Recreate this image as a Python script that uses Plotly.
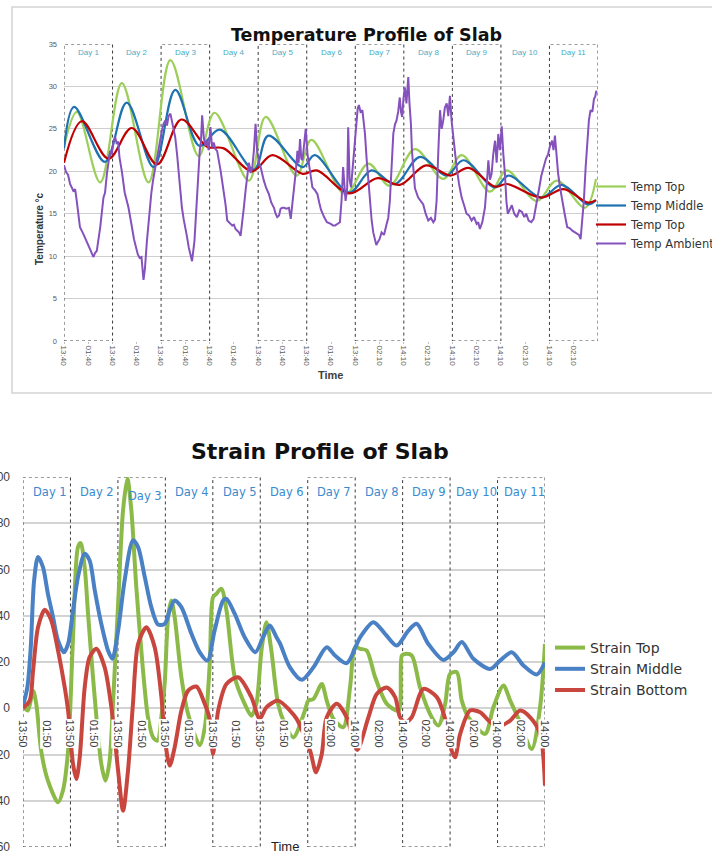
import plotly.graph_objects as go

W, H = 712, 863

# ---------------- Temperature chart data ----------------
temp_tick_vals = [0, 12, 24, 36, 48, 60, 72, 84, 96, 108, 120, 132, 144, 156, 168, 180, 192, 204, 216, 228, 240, 252]
temp_tick_text = ["13:40", "01:40", "13:40", "01:40", "13:40", "01:40", "13:40", "01:40", "13:40", "01:40",
                  "13:40", "01:40", "13:40", "02:10", "14:10", "02:10", "14:10", "02:10", "14:10", "02:10",
                  "14:10", "02:10"]
day_labels = ["Day 1", "Day 2", "Day 3", "Day 4", "Day 5", "Day 6", "Day 7", "Day 8", "Day 9", "Day 10", "Day 11"]
day_edges = [0, 24, 48, 72, 96, 120, 144, 168, 192, 216, 240, 264]

tt_h = [0, 6.4, 17.9, 28.6, 41.8, 52.6, 66.6, 74.4, 91.4, 99.7, 115.0, 122.3, 139.0, 150.5, 161.0, 173.5,
        187.5, 196.6, 210.6, 218.9, 233.7, 243.6, 257.6, 263.0]
tt_v = [22.9, 27.0, 18.7, 30.4, 18.7, 33.1, 21.8, 26.9, 18.9, 26.4, 19.5, 23.7, 17.3, 20.9, 18.3, 22.6,
        19.1, 21.9, 17.6, 20.1, 16.5, 18.9, 15.7, 19.1]

tm_h = [0, 5.0, 20.3, 31.0, 44.3, 55.0, 67.0, 77.0, 94.0, 101.0, 118.0, 124.0, 141.0, 152.0, 163.6, 176.0,
        189.0, 197.5, 213.0, 219.7, 236.0, 246.0, 259.0, 263.0]
tm_v = [22.7, 27.6, 21.1, 28.1, 20.5, 29.6, 23.0, 24.9, 20.2, 24.2, 20.5, 21.9, 17.5, 20.1, 18.5, 21.7,
        19.5, 21.3, 18.1, 19.5, 16.9, 18.4, 16.1, 16.6]

tb_h = [0, 8.8, 22.0, 33.5, 46.0, 58.0, 70.7, 79.0, 93.0, 103.0, 118.0, 125.0, 141.0, 155.0, 166.0, 179.0,
        191.0, 200.0, 213.0, 219.0, 236.0, 247.0, 259.0, 263.0]
tb_v = [21.0, 25.9, 21.5, 25.1, 20.8, 26.1, 22.9, 22.7, 20.0, 21.9, 19.7, 20.1, 17.4, 19.2, 18.4, 20.7,
        19.5, 20.4, 18.2, 18.5, 16.9, 17.9, 16.3, 16.6]

ta_h = [0, 1.0, 2.0, 3.0, 4.6, 5.5, 6.3, 7.2, 7.9, 9.6, 10.8, 12.1, 13.3, 14.5, 15.4, 16.2, 17.1, 17.9,
        19.5, 20.3, 21.2, 22.0, 22.8, 23.6, 24.5, 25.3, 26.1, 26.8, 27.4, 28.6, 30.0, 31.9, 32.7, 33.6,
        34.6, 35.7, 36.5, 37.4, 38.3, 39.3, 40.0, 41.0, 42.3, 43.2, 44.0, 45.1, 45.9, 46.8, 47.6, 48.4,
        49.2, 50.1, 50.9, 51.7, 52.6, 53.4, 54.2, 55.0, 55.9, 56.7, 57.5, 58.3, 59.2, 60.0, 60.8, 61.7,
        62.5, 63.3, 64.5, 65.2, 65.8, 66.5, 67.1, 67.7, 68.3, 69.1, 69.9, 70.7, 71.5, 72.4, 73.2, 74.0,
        74.9, 75.7, 76.5, 77.4, 78.2, 79.0, 79.9, 80.7, 81.5, 82.3, 83.2, 84.0, 84.8, 85.7, 86.5, 87.3,
        88.1, 88.9, 89.8, 90.6, 91.4, 92.3, 93.1, 93.9, 94.7, 95.5, 96.4, 97.2, 98.0, 98.8, 100.0, 101.3,
        102.5, 103.8, 104.6, 105.4, 106.3, 107.1, 108.0, 108.8, 110.0, 111.2, 112.1, 112.9, 113.7, 114.6,
        115.4, 116.0, 116.7, 117.3, 117.9, 118.7, 119.5, 120.4, 121.2, 122.0, 122.8, 124.0, 125.3, 126.2,
        127.0, 128.6, 130.0, 131.9, 133.0, 134.0, 135.2, 136.4, 137.2, 138.0, 139.2, 140.0, 140.5, 141.2,
        141.9, 143.0, 143.8, 144.6, 145.2, 145.8, 146.6, 147.5, 148.2, 148.8, 149.6, 150.4, 151.2, 152.1,
        152.9, 153.7, 154.4, 155.0, 156.0, 157.0, 158.2, 159.5, 160.3, 161.1, 162.0, 162.8, 163.6, 164.4,
        165.2, 166.0, 166.6, 167.2, 167.8, 168.5, 169.3, 170.2, 170.8, 171.5, 172.0, 172.6, 173.5, 175.1,
        176.4, 177.6, 178.8, 180.1, 181.4, 182.6, 183.4, 184.2, 185.0, 185.9, 186.7, 187.5, 188.3, 189.2,
        190.0, 190.8, 191.6, 192.5, 193.3, 194.1, 195.3, 196.6, 197.8, 199.0, 200.2, 201.5, 202.7, 204.0,
        204.8, 205.6, 206.8, 208.1, 209.0, 209.8, 210.6, 211.4, 212.2, 213.1, 213.9, 214.7, 215.5, 216.4,
        217.2, 218.0, 218.7, 219.4, 220.4, 221.4, 222.6, 223.9, 225.1, 226.4, 227.6, 228.5, 229.7, 231.0,
        232.2, 233.4, 234.7, 236.0, 237.2, 238.3, 239.3, 240.3, 241.3, 242.0, 242.7, 243.5, 244.3, 245.3,
        246.3, 247.5, 248.8, 250.0, 251.3, 252.5, 253.7, 254.6, 255.4, 256.2, 257.0, 257.9, 258.7, 259.5,
        260.3, 261.2, 262.0, 262.6, 263.2]
ta_v = [20.7, 19.9, 19.6, 18.5, 17.7, 17.9, 16.5, 15.0, 13.4, 12.6, 12.0, 11.4, 10.6, 9.9, 10.4, 10.6, 12.0, 13.4,
        16.9, 17.5, 19.7, 21.0, 22.4, 22.0, 23.6, 24.0, 23.2, 23.5, 21.7, 20.0, 17.5, 15.7, 14.4, 13.4,
        12.0, 11.0, 10.2, 9.8, 9.9, 7.2, 8.5, 11.8, 15.7, 17.5, 18.9, 20.5, 21.5, 22.8, 23.9, 24.8,
        25.6, 26.0, 25.4, 26.5, 26.8, 25.8, 25.0, 24.0, 22.0, 19.7, 17.5, 15.7, 14.3, 13.4, 12.3, 11.0,
        10.2, 9.4, 11.8, 14.5, 17.7, 20.5, 22.4, 23.5, 26.6, 24.0, 23.0, 23.6, 22.5, 25.2, 22.8, 23.4,
        22.6, 22.4, 21.5, 20.1, 18.8, 17.7, 16.0, 14.2, 14.0, 13.8, 13.6, 13.7, 13.2, 13.0, 12.8, 12.4,
        13.8, 15.7, 17.8, 19.7, 21.0, 19.8, 20.5, 22.5, 25.6, 22.4, 21.0, 20.5, 19.6, 18.9, 18.0, 17.3,
        16.3, 15.7, 15.0, 14.6, 14.8, 15.6, 15.7, 15.7, 15.6, 15.7, 14.4, 16.0, 18.1, 20.0,
        22.4, 21.0, 23.8, 21.5, 21.3, 23.0, 25.0, 22.0, 20.5, 19.0, 18.1, 17.8, 17.3, 16.3,
        15.5, 14.6, 14.0, 13.8, 13.6, 13.6, 13.8, 14.0, 16.5, 20.5, 16.5, 18.0, 25.2, 19.0,
        18.1, 21.3, 23.5, 26.0, 27.4, 27.8, 27.0, 27.2, 26.0, 24.4, 21.5, 18.9, 16.5, 14.2,
        12.8, 11.8, 11.3, 11.6, 12.0, 12.8, 12.5, 13.8, 14.5, 16.5, 20.5, 24.4, 25.5, 26.0,
        27.0, 28.7, 27.0, 26.4, 28.5, 29.9, 28.0, 31.1, 28.0, 25.6, 22.5, 20.5, 18.0, 16.9,
        16.4, 16.1, 15.0, 14.2, 14.5, 14.0, 14.3, 16.5, 22.0, 27.2, 25.0, 26.0, 27.5, 28.0,
        26.5, 28.9, 26.0, 24.0, 22.0, 20.5, 18.5, 16.9, 16.0, 15.0, 14.8, 14.2, 14.6, 13.8,
        14.0, 13.2, 14.0, 15.7, 18.5, 21.3, 19.0, 19.7, 22.0, 23.6, 21.0, 24.4, 22.5, 25.3,
        22.0, 19.7, 16.5, 15.0, 15.5, 16.0, 15.0, 14.6, 15.4, 15.2, 14.6, 15.0, 14.2, 14.0,
        14.4, 15.8, 17.7, 19.5, 20.5, 21.5, 22.0, 23.0, 23.6, 22.5, 24.2, 21.5, 19.7, 18.0,
        16.5, 15.0, 13.4, 13.3, 13.0, 12.8, 12.6, 12.5, 12.0, 14.0, 16.5, 20.5, 24.0, 26.0,
        27.2, 27.0, 28.5, 28.8, 29.5]

# ---------------- Strain chart data ----------------
strain_tick_vals = [0, 12, 24, 36, 48, 60, 72, 84, 96, 108, 120, 132, 144, 156, 168, 180, 192, 204, 216, 228, 240, 252, 264]
strain_tick_text = ["13:50", "01:50", "13:50", "01:50", "13:50", "01:50", "13:50", "01:50", "13:50", "01:50",
                    "13:50", "01:50", "13:50", "02:00", "14:00", "02:00", "14:00", "02:00", "14:00", "02:00",
                    "14:00", "02:00", "14:00"]

st_h = [0.5, 2.5, 5.1, 6.7, 9.3, 12.6, 17.7, 20.2, 22.8, 25.3, 27.8, 29.2, 31.2, 32.9, 35.4, 39.6, 41.7, 43.8,
        45.5, 48.1, 50.6, 52.8, 54.8, 57.3, 60.7, 63.2, 65.8, 68.0, 70.2, 71.7, 73.4, 75.0, 76.7, 80.1, 83.5,
        89.4, 92.0, 94.5, 96.1, 97.8, 100.3, 102.9, 107.1, 112.1, 115.5, 118.0, 120.6, 123.1, 125.6, 129.0,
        132.4, 136.7, 142.6, 144.3, 146.9, 151.1, 153.6, 157.0, 162.0, 165.4, 168.0, 170.5, 173.8, 178.1,
        184.0, 189.9, 191.6, 193.2, 196.6, 200.8, 206.7, 210.1, 213.5, 216.0, 219.4, 221.9, 225.3, 233.7,
        237.9, 243.0, 246.4, 250.6, 257.3, 261.5, 264.0]
st_v = [0.4, -1.0, 7.6, 1.9, -19.0, -31.3, -40.7, -35.6, -18.3, 30.7, 69.7, 71.4, 61.0, 40.8, 13.4, -24.1, -31.3, -22.7,
        1.9, 45.0, 85.6, 99.3, 85.6, 52.4, 16.3, -3.9, -12.6, -14.0, -2.0, 11.3, 39.4, 46.6, 39.4, 13.4, -2.5,
        -16.0, -8.0, 20.0, 48.0, 49.5, 51.7, 42.3, 13.4, 1.9, -3.2, 1.9, 25.0, 37.2, 25.0, 1.9,
        -6.8, -12.6, -1.0, 3.3, 4.0, 10.5, 3.3, -4.6, -8.2, 9.0, 26.4, 25.7, 25.0, 13.4,
        1.9, -1.0, 22.8, 23.5, 22.8, 9.0, -3.9, -7.5, 1.9, 14.9, 15.6, 3.3, -3.9, -11.1,
        0.4, 9.8, 3.3, -4.6, -17.6, 0.4, 27.8]

sm_h = [0, 2.2, 3.9, 5.6, 7.6, 10.1, 12.6, 15.2, 17.7, 20.7, 22.8, 25.3, 27.8, 31.2, 33.7, 36.3, 39.6, 43.0,
        45.2, 48.1, 51.4, 55.6, 58.2, 61.6, 64.9, 68.3, 71.7, 74.2, 76.7, 80.1, 85.2, 89.4, 93.3, 96.9,
        101.2, 102.9, 107.1, 112.1, 117.5, 121.4, 124.8, 128.2, 130.0, 135.0, 141.0, 146.9, 153.6, 157.8,
        163.7, 170.5, 177.2, 183.1, 189.0, 194.9, 199.1, 205.0, 212.6, 217.7, 221.9, 227.8, 236.2, 241.3,
        247.2, 253.1, 259.8, 264.0]
sm_v = [1.2, 9.0, 26.0, 55.0, 65.4, 61.0, 49.5, 39.4, 29.3, 24.2, 27.8, 42.3, 56.7, 66.8, 63.9, 51.0, 36.5, 25.0,
        21.4, 33.6, 55.3, 72.6, 69.7, 56.7, 43.7, 36.2, 36.5, 42.3, 46.6, 43.7, 32.2, 24.2, 20.6, 33.6,
        46.6, 47.3, 40.8, 30.7, 24.2, 30.7, 35.8, 30.7, 28.0, 17.7, 12.3, 17.7, 26.4, 22.8,
        19.5, 30.7, 37.2, 32.2, 27.1, 33.6, 36.5, 27.8, 20.9, 24.2, 28.6, 21.4, 17.0, 20.6,
        24.2, 18.5, 14.6, 19.9]

sb_h = [0, 3.4, 5.1, 7.6, 11.0, 14.3, 17.7, 21.1, 22.8, 25.3, 27.0, 28.7, 31.2, 33.7, 37.1, 41.3, 44.7, 48.1,
        50.6, 53.1, 55.6, 58.2, 62.4, 66.6, 70.0, 71.7, 74.2, 76.7, 80.1, 83.5, 87.7, 91.9, 94.4, 96.1, 98.7,
        102.9, 108.8, 115.5, 119.7, 123.1, 129.0, 135.0, 138.4, 145.2, 148.2, 151.1, 153.6, 158.7, 163.7,
        166.5, 169.1, 174.7, 178.9, 184.0, 188.2, 190.7, 193.5, 196.6, 202.5, 209.3, 213.5, 216.8, 218.5,
        221.1, 226.1, 231.2, 235.4, 240.0, 246.4, 251.4, 256.5, 261.5, 264.0]
sb_v = [0.1, 3.3, 16.3, 35.0, 42.6, 38.0, 25.0, 9.0, -1.0, -24.1, -30.6, -21.2, 9.0, 22.1, 25.7, 17.7, 0.4, -27.0,
        -44.3, -27.0, 1.9, 27.8, 35.0, 26.4, 4.8, -12.6, -24.8, -16.9, -1.0, 7.6, 9.4, 1.9, -4.6, -19.8, -1.0,
        10.5, 13.4, 4.8, -4.6, 0.4, 3.3, -1.0, -4.6, -18.3, -27.7, -19.8, -3.9, 1.9, -3.9,
        -12.0, -18.0, -3.9, 6.2, 9.0, 4.8, -3.9, -6.0, -3.9, 8.4, 4.8, -4.6, -18.3, -21.2,
        -11.1, -1.0, -1.7, -5.3, -8.0, -5.3, -1.0, -3.9, -11.1, -33.5]

# ---------------- colours ----------------
C_TT, C_TM, C_TB, C_TA = "#9ccf5a", "#1f72b0", "#c00000", "#8552bd"
C_ST, C_SM, C_SB = "#8cba48", "#4a80c4", "#c9463f"


def px_x(p):
    return p / W


def px_y(p):
    return 1 - p / H


fig = go.Figure()

# Temperature traces
fig.add_trace(go.Scatter(x=tt_h, y=tt_v, name="Temp Top", mode="lines", line=dict(color=C_TT, width=2.2, shape="spline"),
                         xaxis="x", yaxis="y", legend="legend"))
fig.add_trace(go.Scatter(x=tm_h, y=tm_v, name="Temp Middle", mode="lines", line=dict(color=C_TM, width=2.2, shape="spline"),
                         xaxis="x", yaxis="y", legend="legend"))
fig.add_trace(go.Scatter(x=tb_h, y=tb_v, name="Temp Top", mode="lines", line=dict(color=C_TB, width=2.2, shape="spline"),
                         xaxis="x", yaxis="y", legend="legend"))
fig.add_trace(go.Scatter(x=ta_h, y=ta_v, name="Temp Ambient", mode="lines", line=dict(color=C_TA, width=2),
                         xaxis="x", yaxis="y", legend="legend"))

# Strain traces
fig.add_trace(go.Scatter(x=st_h, y=st_v, name="Strain Top", mode="lines", line=dict(color=C_ST, width=4, shape="spline", smoothing=0.8),
                         xaxis="x2", yaxis="y2", legend="legend2"))
fig.add_trace(go.Scatter(x=sm_h, y=sm_v, name="Strain Middle", mode="lines", line=dict(color=C_SM, width=4, shape="spline", smoothing=0.8),
                         xaxis="x2", yaxis="y2", legend="legend2"))
fig.add_trace(go.Scatter(x=sb_h, y=sb_v, name="Strain Bottom", mode="lines", line=dict(color=C_SB, width=4, shape="spline", smoothing=0.8),
                         xaxis="x2", yaxis="y2", legend="legend2"))

shapes = []
annotations = []

# outer frame of temperature chart
shapes.append(dict(type="rect", xref="paper", yref="paper", x0=px_x(12), x1=px_x(730), y0=px_y(393), y1=px_y(7),
                   line=dict(color="#d4d4d4", width=1.5), layer="below"))

# day boxes (odd days boxed)
for i in range(0, 11, 2):
    shapes.append(dict(type="rect", xref="x", yref="y", x0=day_edges[i], x1=day_edges[i + 1], y0=0, y1=35,
                       line=dict(color="#3a3a3a", width=1, dash="dot"), layer="between"))
    shapes.append(dict(type="rect", xref="x2", yref="y2", x0=day_edges[i], x1=day_edges[i + 1], y0=-60, y1=100,
                       line=dict(color="#3a3a3a", width=1, dash="dot"), layer="between"))

for i, lab in enumerate(day_labels):
    c = (day_edges[i] + day_edges[i + 1]) / 2
    annotations.append(dict(x=c, y=34.05, xref="x", yref="y", text=lab, showarrow=False,
                            font=dict(family="Liberation Sans", size=8, color="#4bacc6")))
    annotations.append(dict(x=c + 1.5, y=92.0 if i == 2 else 93.3, xref="x2", yref="y2", text=lab, showarrow=False,
                            font=dict(family="DejaVu Sans", size=11.5, color="#3b8ad0")))

# strain x tick labels at y=0 crossing
for v, t in zip(strain_tick_vals, strain_tick_text):
    annotations.append(dict(x=v, y=-11.1, xref="x2", yref="y2", text=t, showarrow=False, textangle=90,
                            bgcolor="white", borderpad=0,
                            font=dict(family="Liberation Sans", size=11, color="#404040")))

# titles
annotations.append(dict(x=px_x(366), y=px_y(23), xref="paper", yref="paper", text="<b>Temperature Profile of Slab</b>",
                        showarrow=False, font=dict(family="DejaVu Sans", size=17.5, color="#111")))
annotations.append(dict(x=px_x(320), y=px_y(452), xref="paper", yref="paper", text="<b>Strain Profile of Slab</b>",
                        showarrow=False, font=dict(family="DejaVu Sans", size=22, color="#111")))
annotations.append(dict(x=px_x(32), y=px_y(190), xref="paper", yref="paper", text="<b>Temperature °c</b>", textangle=-90,
                        showarrow=False, font=dict(family="Liberation Sans", size=10, color="#333")))
annotations.append(dict(x=px_x(330), y=px_y(375), xref="paper", yref="paper", text="<b>Time</b>",
                        showarrow=False, font=dict(family="Liberation Sans", size=11, color="#404040")))
annotations.append(dict(x=px_x(285), y=px_y(856), xref="paper", yref="paper", text="Time",
                        showarrow=False, font=dict(family="Liberation Sans", size=13, color="#222")))

fig.update_layout(
    width=W, height=H, margin=dict(l=0, r=0, t=0, b=0, autoexpand=False),
    paper_bgcolor="white", plot_bgcolor="white",
    shapes=shapes, annotations=annotations,
    xaxis=dict(domain=[px_x(64), px_x(598)], range=[0, 264], tickvals=temp_tick_vals, ticktext=temp_tick_text,
               tickangle=90, tickfont=dict(family="Liberation Sans", size=8, color="#595959"),
               showgrid=False, zeroline=False, showline=False, ticks="outside", ticklen=2, tickcolor="#bfbfbf",
               anchor="y", automargin=False),
    yaxis=dict(domain=[px_y(341), px_y(44)], range=[0, 35], dtick=5, tick0=0,
               tickfont=dict(family="Liberation Sans", size=7.5, color="#595959"),
               showgrid=True, gridcolor="#cfcfcf", gridwidth=1, zeroline=False, showline=False,
               ticklabelstandoff=6, anchor="x", automargin=False),
    xaxis2=dict(domain=[px_x(23), px_x(545)], range=[0, 264], showticklabels=False, showgrid=False,
                zeroline=False, showline=False, anchor="y2", automargin=False),
    yaxis2=dict(domain=[px_y(847), px_y(477)], range=[-60, 100], dtick=20, tick0=0,
                tickfont=dict(family="Liberation Sans", size=12, color="#404040"),
                showgrid=True, gridcolor="#d3d3d3", gridwidth=1.5, zeroline=False, showline=False,
                ticklabelstandoff=12, anchor="x2", automargin=False),
    legend=dict(x=px_x(591), y=px_y(172), xanchor="left", yanchor="top", bgcolor="rgba(0,0,0,0)",
                font=dict(family="DejaVu Sans", size=11.5, color="#333"), tracegroupgap=0),
    legend2=dict(x=px_x(550), y=px_y(632), xanchor="left", yanchor="top", bgcolor="rgba(0,0,0,0)",
                 font=dict(family="DejaVu Sans", size=14, color="#333"), tracegroupgap=0),
    showlegend=True,
)

fig.write_html("out.html", config={"displayModeBar": False},
               post_script="document.body.style.margin='0px';")
